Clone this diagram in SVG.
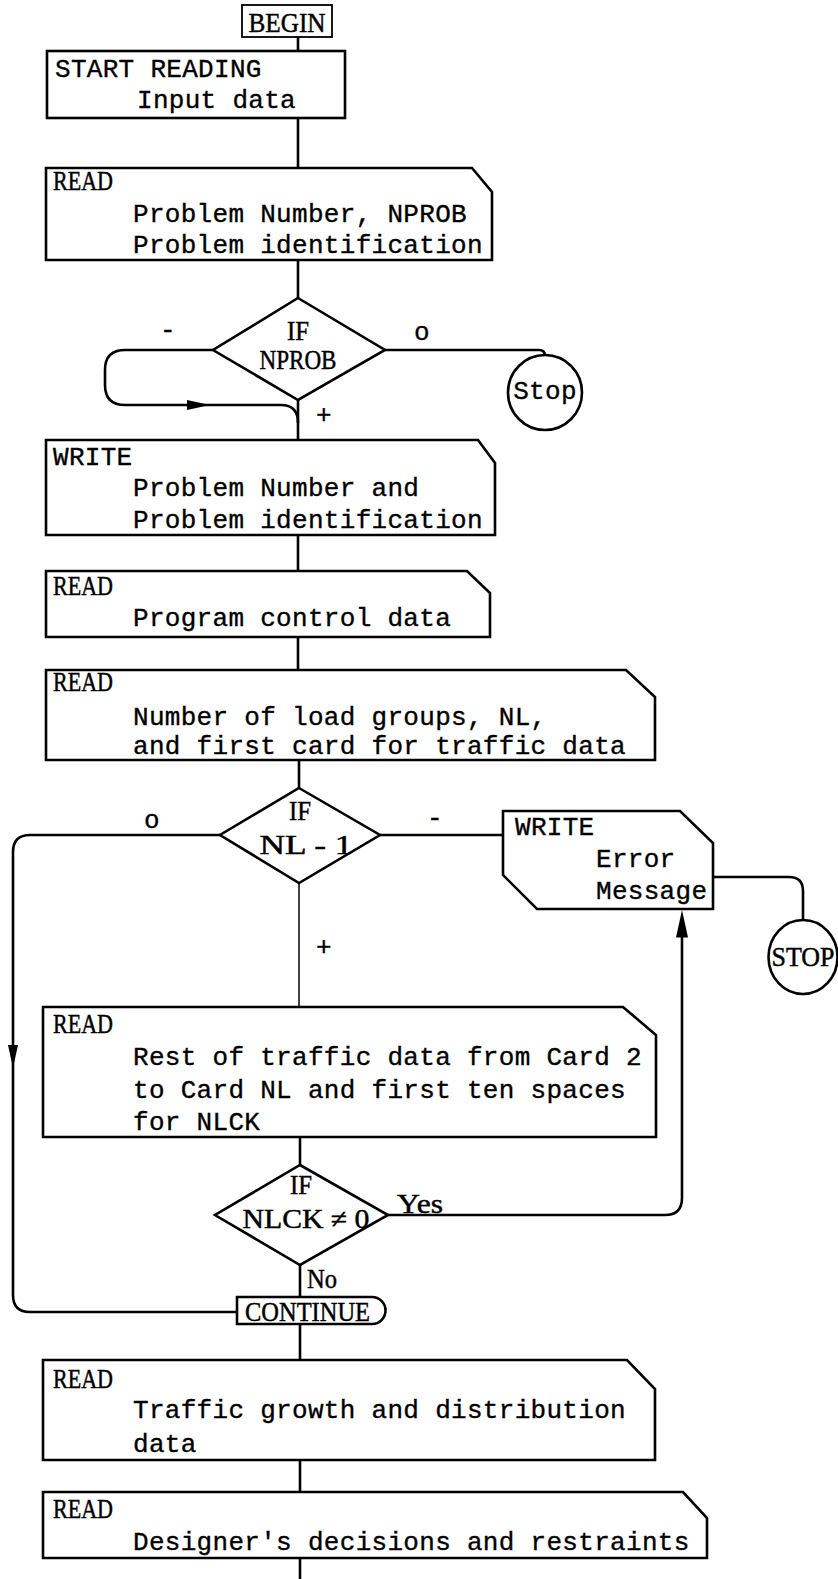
<svg xmlns="http://www.w3.org/2000/svg" width="838" height="1579" viewBox="0 0 838 1579">
  <style>
    .box { fill: #fff; stroke: #000; stroke-width: 2.6; stroke-linejoin: miter; }
    .thin { fill: #fff; stroke: #000; stroke-width: 1.8; }
    .wire { fill: none; stroke: #000; stroke-width: 2.6; }
    .wire-thin { fill: none; stroke: #000; stroke-width: 1.5; }
    .tw { font-family: "Liberation Mono", "DejaVu Sans Mono", monospace; font-size: 26px; letter-spacing: 0.3px; fill: #000; stroke: #000; stroke-width: 0.35; }
    .pr { font-family: "Liberation Serif", "DejaVu Serif", serif; font-size: 27px; fill: #000; stroke: #000; stroke-width: 0.45; }
    .mid { text-anchor: middle; }
  </style>
  <defs>
    <path id="ah" d="M0,0 L-23,-5 L-23,5 Z" fill="#000"/>
  </defs>
  <rect width="838" height="1579" fill="#fff"/>

  <g id="connectors">
    <line class="wire" x1="298" y1="37" x2="298" y2="51"/>
    <line class="wire" x1="298" y1="118" x2="298" y2="168"/>
    <line class="wire" x1="298" y1="260" x2="298" y2="298"/>
    <!-- NPROB zero branch to Stop -->
    <path class="wire" d="M385,350 H539 Q545,350 545,356"/>
    <!-- NPROB negative branch loops back -->
    <path class="wire" d="M213,350 H125 Q105,350 105,370 V385 Q105,405 125,405 H281 Q298,405 298,423"/>
    <use href="#ah" transform="translate(210,405)"/>
    <line class="wire" x1="298" y1="400" x2="298" y2="440"/>
    <line class="wire" x1="298" y1="535" x2="298" y2="571"/>
    <line class="wire" x1="298" y1="637" x2="298" y2="670"/>
    <line class="wire" x1="299" y1="760" x2="299" y2="788"/>
    <!-- NL-1 negative branch to error message -->
    <line class="wire" x1="380" y1="835" x2="503" y2="835"/>
    <path class="wire" d="M713,877 H789 Q803,877 803,891 V920"/>
    <!-- NL-1 zero branch down the left side to CONTINUE -->
    <path class="wire" d="M220,835 H30 Q13,835 13,852 V1295 Q13,1312 30,1312 H237"/>
    <use href="#ah" transform="translate(13,1068) rotate(90)"/>
    <line class="wire-thin" x1="299" y1="883" x2="299" y2="1007"/>
    <line class="wire" x1="300" y1="1137" x2="300" y2="1165"/>
    <!-- NLCK yes branch up to error message -->
    <path class="wire" d="M388,1215 H665 Q682,1215 682,1198 V930"/>
    <use href="#ah" transform="translate(682,910) rotate(-90) scale(1.2,1.2)"/>
    <line class="wire" x1="300" y1="1265" x2="300" y2="1297"/>
    <line class="wire" x1="300" y1="1324" x2="300" y2="1360"/>
    <line class="wire" x1="300" y1="1460" x2="300" y2="1492"/>
    <line class="wire" x1="300" y1="1558" x2="300" y2="1579"/>

    <text class="tw" x="160" y="338">-</text>
    <text class="tw" x="414" y="340">o</text>
    <text class="tw" x="316" y="423">+</text>
    <text class="tw" x="144" y="828">o</text>
    <text class="tw" x="427" y="826">-</text>
    <text class="tw" x="316" y="955">+</text>
    <text class="pr" x="397" y="1213" textLength="46" lengthAdjust="spacingAndGlyphs">Yes</text>
    <text class="pr" x="307" y="1288" textLength="30" lengthAdjust="spacingAndGlyphs">No</text>
  </g>

  <g id="begin">
    <rect class="thin" x="242" y="5" width="90" height="32"/>
    <text class="pr mid" x="287" y="32" textLength="77" lengthAdjust="spacingAndGlyphs">BEGIN</text>
  </g>

  <g id="start-reading">
    <rect class="box" x="47" y="51" width="298" height="67"/>
    <text class="tw" x="55" y="77">START READING</text>
    <text class="tw" x="137" y="108">Input data</text>
  </g>

  <g id="read-problem">
    <path class="box" d="M46,168 H472 L492,192 V260 H46 Z"/>
    <text class="pr" x="53" y="190" textLength="60" lengthAdjust="spacingAndGlyphs">READ</text>
    <text class="tw" x="133" y="222">Problem Number, NPROB</text>
    <text class="tw" x="133" y="253">Problem identification</text>
  </g>

  <g id="if-nprob">
    <path class="box" d="M298,298 L385,350 L298,400 L213,350 Z"/>
    <text class="pr mid" x="298" y="340" textLength="22" lengthAdjust="spacingAndGlyphs">IF</text>
    <text class="pr mid" x="298" y="369" textLength="77" lengthAdjust="spacingAndGlyphs">NPROB</text>
  </g>

  <g id="stop-1">
    <ellipse class="box" cx="545" cy="392.5" rx="37" ry="37.5"/>
    <text class="tw mid" x="545" y="399">Stop</text>
  </g>

  <g id="write-problem">
    <path class="box" d="M46,440 H478 L495,463 V535 H46 Z"/>
    <text class="tw" x="53" y="465">WRITE</text>
    <text class="tw" x="133" y="496">Problem Number and</text>
    <text class="tw" x="133" y="528">Problem identification</text>
  </g>

  <g id="read-control">
    <path class="box" d="M46,571 H467 L490,593 V637 H46 Z"/>
    <text class="pr" x="53" y="595" textLength="60" lengthAdjust="spacingAndGlyphs">READ</text>
    <text class="tw" x="133" y="626">Program control data</text>
  </g>

  <g id="read-load-groups">
    <path class="box" d="M46,670 H626 L655,697 V760 H46 Z"/>
    <text class="pr" x="53" y="691" textLength="60" lengthAdjust="spacingAndGlyphs">READ</text>
    <text class="tw" x="133" y="725">Number of load groups, NL,</text>
    <text class="tw" x="133" y="754">and first card for traffic data</text>
  </g>

  <g id="if-nl">
    <path class="box" d="M299,788 L380,835 L299,883 L220,835 Z"/>
    <text class="pr mid" x="300" y="820" textLength="22" lengthAdjust="spacingAndGlyphs">IF</text>
    <text class="pr mid" x="306" y="854" textLength="93" lengthAdjust="spacingAndGlyphs">NL - 1</text>
  </g>

  <g id="write-error">
    <path class="box" d="M503,811 H680 L713,843 V909 H537 L503,875 Z"/>
    <text class="tw" x="515" y="835">WRITE</text>
    <text class="tw" x="596" y="867">Error</text>
    <text class="tw" x="596" y="899">Message</text>
  </g>

  <g id="stop-2">
    <ellipse class="box" cx="803" cy="957" rx="34.5" ry="37"/>
    <text class="pr mid" x="803" y="966" textLength="63" lengthAdjust="spacingAndGlyphs">STOP</text>
  </g>

  <g id="read-traffic-rest">
    <path class="box" d="M43,1007 H623 L656,1035 V1137 H43 Z"/>
    <text class="pr" x="53" y="1033" textLength="60" lengthAdjust="spacingAndGlyphs">READ</text>
    <text class="tw" x="133" y="1065">Rest of traffic data from Card 2</text>
    <text class="tw" x="133" y="1098">to Card NL and first ten spaces</text>
    <text class="tw" x="133" y="1130">for NLCK</text>
  </g>

  <g id="if-nlck">
    <path class="box" d="M300,1165 L388,1215 L300,1265 L215,1215 Z"/>
    <text class="pr mid" x="301" y="1194" textLength="22" lengthAdjust="spacingAndGlyphs">IF</text>
    <text class="pr mid" x="306" y="1228" textLength="127" lengthAdjust="spacingAndGlyphs">NLCK ≠ 0</text>
  </g>

  <g id="continue">
    <path class="box" d="M237,1297 H372 A13.5,13.5 0 0 1 372,1324 H237 Z"/>
    <text class="pr" x="245" y="1321" textLength="125" lengthAdjust="spacingAndGlyphs">CONTINUE</text>
  </g>

  <g id="read-growth">
    <path class="box" d="M43,1360 H627 L655,1389 V1460 H43 Z"/>
    <text class="pr" x="53" y="1388" textLength="60" lengthAdjust="spacingAndGlyphs">READ</text>
    <text class="tw" x="133" y="1418">Traffic growth and distribution</text>
    <text class="tw" x="133" y="1452">data</text>
  </g>

  <g id="read-designer">
    <path class="box" d="M43,1492 H683 L707,1518 V1558 H43 Z"/>
    <text class="pr" x="53" y="1518" textLength="60" lengthAdjust="spacingAndGlyphs">READ</text>
    <text class="tw" x="133" y="1550">Designer's decisions and restraints</text>
  </g>
</svg>
